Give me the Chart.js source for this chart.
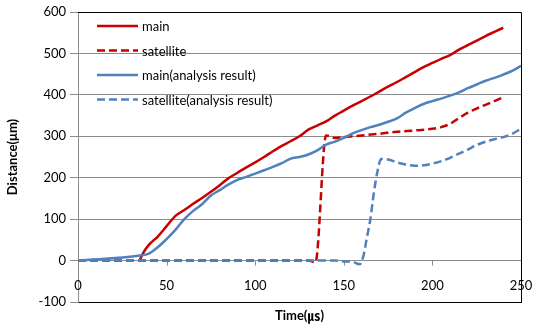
<!DOCTYPE html>
<html>
<head>
<meta charset="utf-8">
<script src="https://cdn.jsdelivr.net/npm/chart.js@4"></script>
<style>
  html, body { margin: 0; padding: 0; background: #fff; }
  #wrap { width: 534px; height: 324px; }
</style>
</head>
<body>
<div id="wrap"><canvas id="myCanvas"></canvas></div>
<script>
'use strict';

// data (time in ㎲, distance in μm)

const mainTime = [35, 37, 40, 45, 50, 55, 60, 65, 70, 75, 80, 85, 90, 95, 100, 105, 110, 115, 120, 125, 130, 135, 140, 145, 150, 155, 160, 165, 170, 175, 180, 185, 190, 195, 200, 205, 210, 215, 220, 225, 230, 235, 240];
const mainDist = [3, 20, 38, 58, 83, 108, 122, 137, 151, 166, 182, 199, 212, 225, 237, 250, 264, 277, 288, 300, 316, 326, 336, 350, 362, 374, 385, 396, 408, 420, 431, 443, 455, 467, 477, 487, 496, 509, 520, 531, 542, 552, 562];

const satTime = [0, 130, 134, 140, 145, 150, 160, 170, 180, 190, 200, 205, 210, 215, 220, 225, 230, 235, 240];
const satDist = [0, 0, -4, 302, 296, 298, 302, 306, 311, 314, 318, 322, 330, 344, 357, 367, 376, 385, 394];

const mainAnTime = [0, 35, 40, 45, 50, 55, 60, 65, 70, 75, 80, 85, 90, 95, 100, 105, 110, 115, 120, 125, 130, 135, 140, 145, 150, 155, 160, 165, 170, 175, 180, 185, 190, 195, 200, 205, 210, 215, 220, 225, 230, 235, 240, 245, 250];
const mainAnDist = [0, 12, 17, 32, 52, 74, 100, 120, 136, 157, 170, 184, 195, 202, 210, 218, 226, 235, 246, 250, 256, 266, 280, 287, 296, 307, 315, 322, 328, 335, 343, 357, 368, 378, 385, 391, 398, 406, 416, 425, 434, 441, 449, 458, 470];

const satAnTime = [0, 145, 150, 155, 159, 161, 163, 165, 167, 169, 171, 175, 180, 185, 190, 195, 200, 205, 210, 215, 220, 225, 230, 235, 240, 245, 250];
const satAnDist = [0, 0, -2, -3, -9, 10, 55, 100, 165, 215, 245, 244, 237, 232, 229, 230, 234, 240, 248, 258, 268, 279, 287, 293, 298, 306, 318];

const seriesLabels = ['main', 'satellite', 'main(analysis result)', 'satellite(analysis result)'];
const xTicks = { min: 0, max: 250, step: 50 };
const yTicks = { min: -100, max: 600, step: 100 };

const red = '#c80000';
const blue = '#4f81bd';
const gridGray = '#8c8c8c';
const fontFamily = 'Lato, "Noto Sans CJK JP", sans-serif';

function toPoints(times, values) {
  return times.map((t, i) => ({ x: t, y: values[i] }));
}

// legend drawn inside the plot, top left, like the original
const insideLegend = {
  id: 'insideLegend',
  afterDraw(chart) {
    const ctx = chart.ctx;
    const area = chart.chartArea;
    ctx.save();
    ctx.font = '13px ' + fontFamily;
    ctx.textBaseline = 'middle';
    chart.data.datasets.forEach((ds, i) => {
      const y = area.top + 14 + i * 24.5;
      const x = area.left + 19;
      ctx.strokeStyle = ds.borderColor;
      ctx.lineWidth = ds.borderWidth;
      ctx.setLineDash(ds.borderDash || []);
      ctx.beginPath();
      ctx.moveTo(x, y);
      ctx.lineTo(x + 41, y);
      ctx.stroke();
      ctx.setLineDash([]);
      ctx.fillStyle = '#000';
      ctx.fillText(ds.label, x + 45, y + 1);
    });
    ctx.restore();
  }
};

// black frame on top / right, small tick marks on the zero line,
// x tick labels sitting inside the plot just above the bottom edge
const plotFrame = {
  id: 'plotFrame',
  beforeDatasetsDraw(chart) {
    const ctx = chart.ctx;
    const area = chart.chartArea;
    const xs = chart.scales.x;
    const y0 = chart.scales.y.getPixelForValue(0);
    ctx.save();
    ctx.strokeStyle = gridGray;
    ctx.lineWidth = 1;
    xs.ticks.forEach(t => {
      const px = Math.round(xs.getPixelForValue(t.value)) + 0.5;
      ctx.beginPath();
      ctx.moveTo(px, y0);
      ctx.lineTo(px, y0 + 5);
      ctx.stroke();
    });
    ctx.strokeStyle = '#000';
    ctx.beginPath();
    ctx.moveTo(area.left, Math.round(area.top) + 0.5);
    ctx.lineTo(Math.round(area.right) + 0.5, Math.round(area.top) + 0.5);
    ctx.lineTo(Math.round(area.right) + 0.5, area.bottom);
    ctx.stroke();
    ctx.restore();
  },
  afterDraw(chart) {
    const ctx = chart.ctx;
    const area = chart.chartArea;
    const xs = chart.scales.x;
    ctx.save();
    ctx.font = '13px ' + fontFamily;
    ctx.fillStyle = '#000';
    ctx.textAlign = 'center';
    ctx.textBaseline = 'middle';
    xs.ticks.forEach(t => {
      ctx.fillText(String(t.value), xs.getPixelForValue(t.value), area.bottom - 16);
    });
    ctx.restore();
  }
};

const datasets = [
  { label: seriesLabels[0], data: toPoints(mainTime, mainDist), borderColor: red, borderWidth: 2.5, order: 4 },
  { label: seriesLabels[1], data: toPoints(satTime, satDist), borderColor: red, borderWidth: 2.5, borderDash: [8, 4], order: 3 },
  { label: seriesLabels[2], data: toPoints(mainAnTime, mainAnDist), borderColor: blue, borderWidth: 2.5, order: 2 },
  { label: seriesLabels[3], data: toPoints(satAnTime, satAnDist), borderColor: blue, borderWidth: 2.5, borderDash: [8, 4], order: 1 }
];

const config = {
  type: 'line',
  data: { datasets: datasets },
  options: {
    responsive: true,
    maintainAspectRatio: false,
    animation: false,
    layout: { padding: { left: 0, right: 13, top: 12, bottom: 0 } },
    elements: {
      point: { radius: 0 },
      line: { cubicInterpolationMode: 'monotone', fill: false }
    },
    plugins: {
      legend: { display: false },
      tooltip: { enabled: false }
    },
    scales: {
      x: {
        type: 'linear',
        min: xTicks.min,
        max: xTicks.max,
        ticks: { stepSize: xTicks.step, display: false },
        grid: { display: false, drawTicks: false },
        border: { color: '#000' },
        title: { display: true, text: 'Time(㎲)', color: '#000', padding: 0, font: { family: fontFamily, size: 13, weight: 'bold' } },
        afterFit(scale) { scale.height = 22; }
      },
      y: {
        min: yTicks.min,
        max: yTicks.max,
        ticks: { stepSize: yTicks.step, color: '#000', padding: 4, font: { family: fontFamily, size: 13 } },
        grid: {
          color: c => (c.tick && (c.tick.value === yTicks.max || c.tick.value === yTicks.min)) ? '#000' : gridGray,
          tickColor: gridGray,
          tickLength: 8
        },
        border: { color: gridGray },
        title: { display: true, text: 'Distance(μm)', color: '#000', padding: { top: 5, bottom: 0 }, font: { family: fontFamily, size: 13, weight: 'bold' } },
        afterFit(scale) { scale.width = 78; }
      }
    }
  },
  plugins: [plotFrame, insideLegend]
};

const canvas = document.getElementById('myCanvas');
const myChart = new Chart(canvas, config);
</script>
</body>
</html>
